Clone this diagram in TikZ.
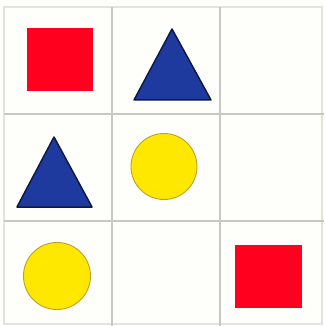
\documentclass[tikz,border=0pt]{standalone}
\begin{document}
\begin{tikzpicture}[x=1pt,y=-1pt,
  gridline/.style={draw=gridgray,line width=2.2pt},
  outerline/.style={draw=gridgray!50,line width=1.2pt},
  redsq/.style={fill=shapered,draw=none},
  bluetri/.style={fill=shapeblue,draw=navyline,line width=1.5pt,line join=round},
  yellowdisc/.style={fill=shapeyellow,draw=circleedge,line width=0.9pt}]
\definecolor{gridgray}{RGB}{200,200,192}
\definecolor{shapered}{RGB}{255,0,30}
\definecolor{shapeblue}{RGB}{30,58,158}
\definecolor{navyline}{RGB}{15,25,70}
\definecolor{shapeyellow}{RGB}{255,232,0}
\definecolor{circleedge}{RGB}{190,160,40}
\definecolor{bgcream}{RGB}{254,254,250}
\useasboundingbox (0,0) rectangle (324,326);
\fill[bgcream] (0,0) rectangle (324,326);
% outer border
\draw[outerline] (4,7) rectangle (322,324);
% grid lines
\draw[gridline] (112,7) -- (112,326);
\draw[gridline] (220,7) -- (220,326);
\draw[gridline] (4,114) -- (324,114);
\draw[gridline] (4,221) -- (324,221);
% shapes
\path[redsq] (27,28) rectangle (93,91);
\path[bluetri] (172,29) -- (211,100) -- (134,100) -- cycle;
\path[bluetri] (54,137) -- (92,207) -- (17,207) -- cycle;
\path[yellowdisc] (164,166.5) circle (33);
\path[yellowdisc] (57,276) circle (33.5);
\path[redsq] (235,245) rectangle (302,308);
\end{tikzpicture}
\end{document}
